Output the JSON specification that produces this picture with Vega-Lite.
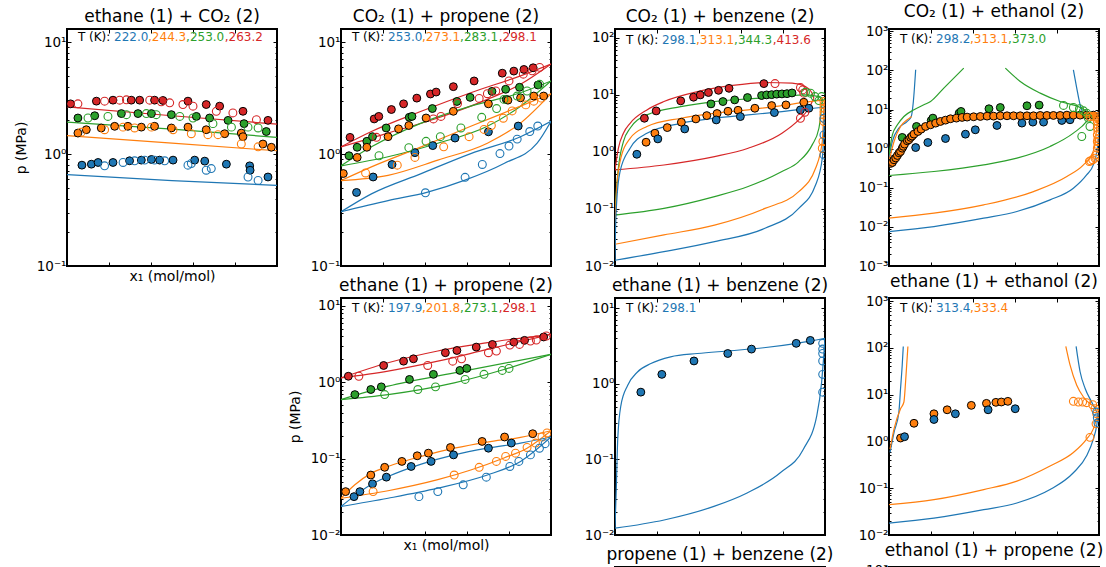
{
"$schema":"https://vega.github.io/schema/vega-lite/v6.json",
"padding":{"left":13,"top":2,"right":5,"bottom":5},
"columns":4,
"bounds":"flush",
"spacing":{"row":32,"column":64},
"datasets":{"d":[
{"g":"A","k":"L","c":3,"x":0,"p":2.64},{"g":"A","k":"L","c":3,"x":0.5,"p":2.2},{"g":"A","k":"L","c":3,"x":1,"p":1.85},
{"g":"A","k":"L","c":2,"x":0,"p":1.93},{"g":"A","k":"L","c":2,"x":0.5,"p":1.67},{"g":"A","k":"L","c":2,"x":1,"p":1.41},
{"g":"A","k":"L","c":1,"x":0,"p":1.46},{"g":"A","k":"L","c":1,"x":0.5,"p":1.25},{"g":"A","k":"L","c":1,"x":1,"p":1.07},
{"g":"A","k":"L","c":0,"x":0,"p":0.655},{"g":"A","k":"L","c":0,"x":0.5,"p":0.58},{"g":"A","k":"L","c":0,"x":1,"p":0.525},
{"g":"A","k":"F","c":3,"x":0.017,"p":2.81},{"g":"A","k":"F","c":3,"x":0.14,"p":2.97},{"g":"A","k":"F","c":3,"x":0.219,"p":3.03},{"g":"A","k":"F","c":3,"x":0.306,"p":3.03},{"g":"A","k":"F","c":3,"x":0.346,"p":3.03},{"g":"A","k":"F","c":3,"x":0.417,"p":3.03},{"g":"A","k":"F","c":3,"x":0.457,"p":3.01},{"g":"A","k":"F","c":3,"x":0.576,"p":2.97},{"g":"A","k":"F","c":3,"x":0.663,"p":2.77},{"g":"A","k":"F","c":3,"x":0.727,"p":2.68},{"g":"A","k":"F","c":3,"x":0.838,"p":2.41},{"g":"A","k":"F","c":3,"x":0.957,"p":2.0},
{"g":"A","k":"O","c":3,"x":0.052,"p":2.81},{"g":"A","k":"O","c":3,"x":0.179,"p":2.97},{"g":"A","k":"O","c":3,"x":0.251,"p":3.03},{"g":"A","k":"O","c":3,"x":0.283,"p":3.05},{"g":"A","k":"O","c":3,"x":0.394,"p":3.03},{"g":"A","k":"O","c":3,"x":0.449,"p":2.93},{"g":"A","k":"O","c":3,"x":0.489,"p":2.87},{"g":"A","k":"O","c":3,"x":0.552,"p":2.77},{"g":"A","k":"O","c":3,"x":0.6,"p":2.68},{"g":"A","k":"O","c":3,"x":0.711,"p":2.41},{"g":"A","k":"O","c":3,"x":0.79,"p":2.33},{"g":"A","k":"O","c":3,"x":0.902,"p":2.03},
{"g":"A","k":"F","c":2,"x":0.052,"p":2.1},{"g":"A","k":"F","c":2,"x":0.132,"p":2.2},{"g":"A","k":"F","c":2,"x":0.259,"p":2.3},{"g":"A","k":"F","c":2,"x":0.338,"p":2.3},{"g":"A","k":"F","c":2,"x":0.402,"p":2.3},{"g":"A","k":"F","c":2,"x":0.497,"p":2.25},{"g":"A","k":"F","c":2,"x":0.616,"p":2.17},{"g":"A","k":"F","c":2,"x":0.679,"p":2.1},{"g":"A","k":"F","c":2,"x":0.767,"p":2.0},{"g":"A","k":"F","c":2,"x":0.843,"p":1.87},{"g":"A","k":"F","c":2,"x":0.949,"p":1.59},
{"g":"A","k":"O","c":2,"x":0.1,"p":2.1},{"g":"A","k":"O","c":2,"x":0.195,"p":2.17},{"g":"A","k":"O","c":2,"x":0.283,"p":2.25},{"g":"A","k":"O","c":2,"x":0.378,"p":2.3},{"g":"A","k":"O","c":2,"x":0.425,"p":2.25},{"g":"A","k":"O","c":2,"x":0.537,"p":2.17},{"g":"A","k":"O","c":2,"x":0.6,"p":2.1},{"g":"A","k":"O","c":2,"x":0.695,"p":1.87},{"g":"A","k":"O","c":2,"x":0.783,"p":1.74},{"g":"A","k":"O","c":2,"x":0.862,"p":1.74},{"g":"A","k":"O","c":2,"x":0.91,"p":1.71},
{"g":"A","k":"F","c":1,"x":0.052,"p":1.54},{"g":"A","k":"F","c":1,"x":0.092,"p":1.65},{"g":"A","k":"F","c":1,"x":0.163,"p":1.71},{"g":"A","k":"F","c":1,"x":0.227,"p":1.77},{"g":"A","k":"F","c":1,"x":0.29,"p":1.77},{"g":"A","k":"F","c":1,"x":0.354,"p":1.74},{"g":"A","k":"F","c":1,"x":0.417,"p":1.77},{"g":"A","k":"F","c":1,"x":0.497,"p":1.71},{"g":"A","k":"F","c":1,"x":0.576,"p":1.74},{"g":"A","k":"F","c":1,"x":0.663,"p":1.65},{"g":"A","k":"F","c":1,"x":0.751,"p":1.52},{"g":"A","k":"F","c":1,"x":0.83,"p":1.54},{"g":"A","k":"F","c":1,"x":0.838,"p":1.43},{"g":"A","k":"F","c":1,"x":0.933,"p":1.23},{"g":"A","k":"F","c":1,"x":0.973,"p":1.15},
{"g":"A","k":"O","c":1,"x":0.068,"p":1.57},{"g":"A","k":"O","c":1,"x":0.179,"p":1.65},{"g":"A","k":"O","c":1,"x":0.267,"p":1.74},{"g":"A","k":"O","c":1,"x":0.322,"p":1.71},{"g":"A","k":"O","c":1,"x":0.402,"p":1.74},{"g":"A","k":"O","c":1,"x":0.505,"p":1.65},{"g":"A","k":"O","c":1,"x":0.592,"p":1.52},{"g":"A","k":"O","c":1,"x":0.671,"p":1.49},{"g":"A","k":"O","c":1,"x":0.719,"p":1.49},{"g":"A","k":"O","c":1,"x":0.83,"p":1.23},{"g":"A","k":"O","c":1,"x":0.91,"p":1.16},
{"g":"A","k":"F","c":0,"x":0.071,"p":0.796},{"g":"A","k":"F","c":0,"x":0.116,"p":0.812},{"g":"A","k":"F","c":0,"x":0.148,"p":0.841},{"g":"A","k":"F","c":0,"x":0.219,"p":0.841},{"g":"A","k":"F","c":0,"x":0.298,"p":0.871},{"g":"A","k":"F","c":0,"x":0.354,"p":0.883},{"g":"A","k":"F","c":0,"x":0.402,"p":0.895},{"g":"A","k":"F","c":0,"x":0.441,"p":0.883},{"g":"A","k":"F","c":0,"x":0.505,"p":0.883},{"g":"A","k":"F","c":0,"x":0.608,"p":0.883},{"g":"A","k":"F","c":0,"x":0.656,"p":0.865},{"g":"A","k":"F","c":0,"x":0.759,"p":0.812},{"g":"A","k":"F","c":0,"x":0.87,"p":0.785},{"g":"A","k":"F","c":0,"x":0.872,"p":0.717},{"g":"A","k":"F","c":0,"x":0.957,"p":0.624},
{"g":"A","k":"O","c":0,"x":0.179,"p":0.785},{"g":"A","k":"O","c":0,"x":0.267,"p":0.841},{"g":"A","k":"O","c":0,"x":0.322,"p":0.871},{"g":"A","k":"O","c":0,"x":0.37,"p":0.883},{"g":"A","k":"O","c":0,"x":0.417,"p":0.883},{"g":"A","k":"O","c":0,"x":0.465,"p":0.871},{"g":"A","k":"O","c":0,"x":0.576,"p":0.796},{"g":"A","k":"O","c":0,"x":0.592,"p":0.824},{"g":"A","k":"O","c":0,"x":0.663,"p":0.717},{"g":"A","k":"O","c":0,"x":0.687,"p":0.742},{"g":"A","k":"O","c":0,"x":0.862,"p":0.624},{"g":"A","k":"O","c":0,"x":0.91,"p":0.582},
{"g":"A","k":"T","c":4,"x":0.052,"p":11.1,"t":"T (K):"},{"g":"A","k":"T","c":0,"x":0.224,"p":11.1,"t":"222.0"},{"g":"A","k":"T","c":1,"x":0.386,"p":11.1,"t":",244.3"},{"g":"A","k":"T","c":2,"x":0.567,"p":11.1,"t":",253.0"},{"g":"A","k":"T","c":3,"x":0.751,"p":11.1,"t":",263.2"},

{"g":"B","k":"L","c":3,"b":0,"x":0,"p":1.16},{"g":"B","k":"L","c":3,"b":0,"x":0.145,"p":1.59},{"g":"B","k":"L","c":3,"b":0,"x":0.382,"p":2.41},{"g":"B","k":"L","c":3,"b":0,"x":0.618,"p":3.53},{"g":"B","k":"L","c":3,"b":0,"x":0.855,"p":5.0},{"g":"B","k":"L","c":3,"b":0,"x":1,"p":6.37},
{"g":"B","k":"L","c":3,"b":1,"x":0,"p":1.16},{"g":"B","k":"L","c":3,"b":1,"x":0.224,"p":1.54},{"g":"B","k":"L","c":3,"b":1,"x":0.461,"p":2.1},{"g":"B","k":"L","c":3,"b":1,"x":0.697,"p":3.08},{"g":"B","k":"L","c":3,"b":1,"x":0.855,"p":4.2},{"g":"B","k":"L","c":3,"b":1,"x":1,"p":6.37},
{"g":"B","k":"L","c":2,"b":0,"x":0,"p":0.785},{"g":"B","k":"L","c":2,"b":0,"x":0.145,"p":1.16},{"g":"B","k":"L","c":2,"b":0,"x":0.382,"p":1.89},{"g":"B","k":"L","c":2,"b":0,"x":0.618,"p":2.68},{"g":"B","k":"L","c":2,"b":0,"x":0.855,"p":3.53},{"g":"B","k":"L","c":2,"b":0,"x":1,"p":4.5},
{"g":"B","k":"L","c":2,"b":1,"x":0,"p":0.785},{"g":"B","k":"L","c":2,"b":1,"x":0.224,"p":0.946},{"g":"B","k":"L","c":2,"b":1,"x":0.461,"p":1.25},{"g":"B","k":"L","c":2,"b":1,"x":0.697,"p":1.77},{"g":"B","k":"L","c":2,"b":1,"x":0.855,"p":2.68},{"g":"B","k":"L","c":2,"b":1,"x":1,"p":4.5},
{"g":"B","k":"L","c":1,"b":0,"x":0,"p":0.58},{"g":"B","k":"L","c":1,"b":0,"x":0.145,"p":0.769},{"g":"B","k":"L","c":1,"b":0,"x":0.382,"p":1.16},{"g":"B","k":"L","c":1,"b":0,"x":0.618,"p":1.77},{"g":"B","k":"L","c":1,"b":0,"x":0.855,"p":2.68},{"g":"B","k":"L","c":1,"b":0,"x":1,"p":3.46},
{"g":"B","k":"L","c":1,"b":1,"x":0,"p":0.58},{"g":"B","k":"L","c":1,"b":1,"x":0.224,"p":0.646},{"g":"B","k":"L","c":1,"b":1,"x":0.461,"p":0.883},{"g":"B","k":"L","c":1,"b":1,"x":0.697,"p":1.25},{"g":"B","k":"L","c":1,"b":1,"x":0.855,"p":1.89},{"g":"B","k":"L","c":1,"b":1,"x":1,"p":3.46},
{"g":"B","k":"L","c":0,"b":0,"x":0,"p":0.305},{"g":"B","k":"L","c":0,"b":0,"x":0.145,"p":0.441},{"g":"B","k":"L","c":0,"b":0,"x":0.382,"p":0.669},{"g":"B","k":"L","c":0,"b":0,"x":0.618,"p":1.01},{"g":"B","k":"L","c":0,"b":0,"x":0.855,"p":1.43},{"g":"B","k":"L","c":0,"b":0,"x":1,"p":1.96},
{"g":"B","k":"L","c":0,"b":1,"x":0,"p":0.305},{"g":"B","k":"L","c":0,"b":1,"x":0.224,"p":0.384},{"g":"B","k":"L","c":0,"b":1,"x":0.413,"p":0.457},{"g":"B","k":"L","c":0,"b":1,"x":0.587,"p":0.582},{"g":"B","k":"L","c":0,"b":1,"x":0.776,"p":0.824},{"g":"B","k":"L","c":0,"b":1,"x":0.934,"p":1.25},{"g":"B","k":"L","c":0,"b":1,"x":1,"p":1.96},
{"g":"B","k":"F","c":3,"x":0.043,"p":1.41},{"g":"B","k":"F","c":3,"x":0.158,"p":2.06},{"g":"B","k":"F","c":3,"x":0.18,"p":2.17},{"g":"B","k":"F","c":3,"x":0.24,"p":2.5},{"g":"B","k":"F","c":3,"x":0.298,"p":2.81},{"g":"B","k":"F","c":3,"x":0.361,"p":3.16},{"g":"B","k":"F","c":3,"x":0.426,"p":3.44},{"g":"B","k":"F","c":3,"x":0.453,"p":3.58},{"g":"B","k":"F","c":3,"x":0.535,"p":4.0},{"g":"B","k":"F","c":3,"x":0.634,"p":4.5},{"g":"B","k":"F","c":3,"x":0.768,"p":5.28},{"g":"B","k":"F","c":3,"x":0.823,"p":5.51},{"g":"B","k":"F","c":3,"x":0.871,"p":5.7},{"g":"B","k":"F","c":3,"x":0.915,"p":5.9},
{"g":"B","k":"O","c":3,"x":0.169,"p":1.41},{"g":"B","k":"O","c":3,"x":0.44,"p":2.06},{"g":"B","k":"O","c":3,"x":0.476,"p":2.17},{"g":"B","k":"O","c":3,"x":0.555,"p":2.83},{"g":"B","k":"O","c":3,"x":0.658,"p":3.14},{"g":"B","k":"O","c":3,"x":0.697,"p":3.46},{"g":"B","k":"O","c":3,"x":0.737,"p":3.66},{"g":"B","k":"O","c":3,"x":0.8,"p":4.5},{"g":"B","k":"O","c":3,"x":0.868,"p":5.17},{"g":"B","k":"O","c":3,"x":0.91,"p":5.55},{"g":"B","k":"O","c":3,"x":0.946,"p":5.95},
{"g":"B","k":"F","c":2,"x":0.038,"p":0.966},{"g":"B","k":"F","c":2,"x":0.077,"p":1.15},{"g":"B","k":"F","c":2,"x":0.123,"p":1.3},{"g":"B","k":"F","c":2,"x":0.15,"p":1.43},{"g":"B","k":"F","c":2,"x":0.215,"p":1.71},{"g":"B","k":"F","c":2,"x":0.325,"p":2.13},{"g":"B","k":"F","c":2,"x":0.338,"p":2.17},{"g":"B","k":"F","c":2,"x":0.435,"p":2.55},{"g":"B","k":"F","c":2,"x":0.552,"p":2.95},{"g":"B","k":"F","c":2,"x":0.615,"p":3.21},{"g":"B","k":"F","c":2,"x":0.719,"p":3.63},{"g":"B","k":"F","c":2,"x":0.787,"p":3.08},{"g":"B","k":"F","c":2,"x":0.784,"p":3.79},{"g":"B","k":"F","c":2,"x":0.85,"p":3.95},{"g":"B","k":"F","c":2,"x":0.938,"p":4.14},
{"g":"B","k":"O","c":2,"x":0.181,"p":0.966},{"g":"B","k":"O","c":2,"x":0.323,"p":1.14},{"g":"B","k":"O","c":2,"x":0.405,"p":1.3},{"g":"B","k":"O","c":2,"x":0.473,"p":1.43},{"g":"B","k":"O","c":2,"x":0.571,"p":1.71},{"g":"B","k":"O","c":2,"x":0.67,"p":2.13},{"g":"B","k":"O","c":2,"x":0.741,"p":2.55},{"g":"B","k":"O","c":2,"x":0.776,"p":3.08},{"g":"B","k":"O","c":2,"x":0.839,"p":3.3},{"g":"B","k":"O","c":2,"x":0.886,"p":3.66},{"g":"B","k":"O","c":2,"x":0.946,"p":4.2},
{"g":"B","k":"F","c":1,"x":0.011,"p":0.67},{"g":"B","k":"F","c":1,"x":0.077,"p":0.933},{"g":"B","k":"F","c":1,"x":0.123,"p":1.15},{"g":"B","k":"F","c":1,"x":0.224,"p":1.43},{"g":"B","k":"F","c":1,"x":0.274,"p":1.68},{"g":"B","k":"F","c":1,"x":0.323,"p":1.8},{"g":"B","k":"F","c":1,"x":0.405,"p":2.1},{"g":"B","k":"F","c":1,"x":0.535,"p":2.41},{"g":"B","k":"F","c":1,"x":0.702,"p":2.81},{"g":"B","k":"F","c":1,"x":0.795,"p":3.03},{"g":"B","k":"F","c":1,"x":0.855,"p":3.18},{"g":"B","k":"F","c":1,"x":0.918,"p":3.3},{"g":"B","k":"F","c":1,"x":0.965,"p":3.3},
{"g":"B","k":"O","c":1,"x":0.117,"p":0.678},{"g":"B","k":"O","c":1,"x":0.268,"p":0.796},{"g":"B","k":"O","c":1,"x":0.352,"p":0.933},{"g":"B","k":"O","c":1,"x":0.489,"p":1.16},{"g":"B","k":"O","c":1,"x":0.61,"p":1.43},{"g":"B","k":"O","c":1,"x":0.681,"p":1.66},{"g":"B","k":"O","c":1,"x":0.716,"p":1.8},{"g":"B","k":"O","c":1,"x":0.773,"p":2.09},{"g":"B","k":"O","c":1,"x":0.815,"p":2.43},{"g":"B","k":"O","c":1,"x":0.88,"p":2.75},{"g":"B","k":"O","c":1,"x":0.918,"p":2.97},{"g":"B","k":"O","c":1,"x":0.954,"p":3.16},
{"g":"B","k":"F","c":0,"x":0.074,"p":0.454},{"g":"B","k":"F","c":0,"x":0.153,"p":0.624},{"g":"B","k":"F","c":0,"x":0.243,"p":0.807},{"g":"B","k":"F","c":0,"x":0.352,"p":1.03},{"g":"B","k":"F","c":0,"x":0.437,"p":1.19},{"g":"B","k":"F","c":0,"x":0.543,"p":1.39},{"g":"B","k":"F","c":0,"x":0.702,"p":1.58},{"g":"B","k":"F","c":0,"x":0.844,"p":1.78},
{"g":"B","k":"O","c":0,"x":0.402,"p":0.451},{"g":"B","k":"O","c":0,"x":0.591,"p":0.62},{"g":"B","k":"O","c":0,"x":0.673,"p":0.807},{"g":"B","k":"O","c":0,"x":0.757,"p":1.01},{"g":"B","k":"O","c":0,"x":0.8,"p":1.18},{"g":"B","k":"O","c":0,"x":0.839,"p":1.36},{"g":"B","k":"O","c":0,"x":0.899,"p":1.59},{"g":"B","k":"O","c":0,"x":0.937,"p":1.78},
{"g":"B","k":"T","c":4,"x":0.052,"p":11.1,"t":"T (K):"},{"g":"B","k":"T","c":0,"x":0.224,"p":11.1,"t":"253.0"},{"g":"B","k":"T","c":1,"x":0.386,"p":11.1,"t":",273.1"},{"g":"B","k":"T","c":2,"x":0.567,"p":11.1,"t":",283.1"},{"g":"B","k":"T","c":3,"x":0.751,"p":11.1,"t":",298.1"},

{"g":"C","k":"L","c":3,"b":0,"x":0,"p":0.48},{"g":"C","k":"L","c":3,"b":0,"x":0.016,"p":1.15},{"g":"C","k":"L","c":3,"b":0,"x":0.04,"p":2.11},{"g":"C","k":"L","c":3,"b":0,"x":0.072,"p":3.15},{"g":"C","k":"L","c":3,"b":0,"x":0.152,"p":5.4},{"g":"C","k":"L","c":3,"b":0,"x":0.233,"p":7.57},{"g":"C","k":"L","c":3,"b":0,"x":0.393,"p":11.3},{"g":"C","k":"L","c":3,"b":0,"x":0.554,"p":14.4},{"g":"C","k":"L","c":3,"b":0,"x":0.714,"p":16.3},{"g":"C","k":"L","c":3,"b":0,"x":0.843,"p":15.9},{"g":"C","k":"L","c":3,"b":0,"x":0.907,"p":13.9},{"g":"C","k":"L","c":3,"b":0,"x":0.939,"p":10.6},{"g":"C","k":"L","c":3,"b":0,"x":0.947,"p":8.65},
{"g":"C","k":"L","c":3,"b":1,"x":0,"p":0.48},{"g":"C","k":"L","c":3,"b":1,"x":0.233,"p":0.587},{"g":"C","k":"L","c":3,"b":1,"x":0.474,"p":0.822},{"g":"C","k":"L","c":3,"b":1,"x":0.634,"p":1.15},{"g":"C","k":"L","c":3,"b":1,"x":0.795,"p":2.11},{"g":"C","k":"L","c":3,"b":1,"x":0.875,"p":3.61},{"g":"C","k":"L","c":3,"b":1,"x":0.923,"p":5.78},{"g":"C","k":"L","c":3,"b":1,"x":0.947,"p":8.65},
{"g":"C","k":"L","c":2,"b":0,"x":0,"p":0.078},{"g":"C","k":"L","c":2,"b":0,"x":0.003,"p":0.134},{"g":"C","k":"L","c":2,"b":0,"x":0.016,"p":0.514},{"g":"C","k":"L","c":2,"b":0,"x":0.04,"p":1.51},{"g":"C","k":"L","c":2,"b":0,"x":0.072,"p":2.58},{"g":"C","k":"L","c":2,"b":0,"x":0.152,"p":4.42},{"g":"C","k":"L","c":2,"b":0,"x":0.313,"p":6.18},{"g":"C","k":"L","c":2,"b":0,"x":0.474,"p":7.57},{"g":"C","k":"L","c":2,"b":0,"x":0.634,"p":8.43},{"g":"C","k":"L","c":2,"b":0,"x":0.795,"p":9.26},{"g":"C","k":"L","c":2,"b":0,"x":0.907,"p":9.9},{"g":"C","k":"L","c":2,"b":0,"x":0.971,"p":9.26},{"g":"C","k":"L","c":2,"b":0,"x":0.987,"p":7.57},
{"g":"C","k":"L","c":2,"b":1,"x":0,"p":0.078},{"g":"C","k":"L","c":2,"b":1,"x":0.233,"p":0.102},{"g":"C","k":"L","c":2,"b":1,"x":0.474,"p":0.164},{"g":"C","k":"L","c":2,"b":1,"x":0.634,"p":0.246},{"g":"C","k":"L","c":2,"b":1,"x":0.795,"p":0.45},{"g":"C","k":"L","c":2,"b":1,"x":0.875,"p":0.673},{"g":"C","k":"L","c":2,"b":1,"x":0.939,"p":1.32},{"g":"C","k":"L","c":2,"b":1,"x":0.971,"p":2.58},{"g":"C","k":"L","c":2,"b":1,"x":0.987,"p":7.57},
{"g":"C","k":"L","c":1,"b":0,"x":0,"p":0.024},{"g":"C","k":"L","c":1,"b":0,"x":0.002,"p":0.068},{"g":"C","k":"L","c":1,"b":0,"x":0.008,"p":0.23},{"g":"C","k":"L","c":1,"b":0,"x":0.024,"p":0.673},{"g":"C","k":"L","c":1,"b":0,"x":0.072,"p":1.72},{"g":"C","k":"L","c":1,"b":0,"x":0.152,"p":2.76},{"g":"C","k":"L","c":1,"b":0,"x":0.313,"p":3.86},{"g":"C","k":"L","c":1,"b":0,"x":0.474,"p":4.72},{"g":"C","k":"L","c":1,"b":0,"x":0.634,"p":5.4},{"g":"C","k":"L","c":1,"b":0,"x":0.795,"p":6.44},{"g":"C","k":"L","c":1,"b":0,"x":0.907,"p":7.37},{"g":"C","k":"L","c":1,"b":0,"x":0.997,"p":8.09},
{"g":"C","k":"L","c":1,"b":1,"x":0,"p":0.024},{"g":"C","k":"L","c":1,"b":1,"x":0.233,"p":0.035},{"g":"C","k":"L","c":1,"b":1,"x":0.474,"p":0.052},{"g":"C","k":"L","c":1,"b":1,"x":0.714,"p":0.102},{"g":"C","k":"L","c":1,"b":1,"x":0.875,"p":0.2},{"g":"C","k":"L","c":1,"b":1,"x":0.955,"p":0.514},{"g":"C","k":"L","c":1,"b":1,"x":0.987,"p":1.51},{"g":"C","k":"L","c":1,"b":1,"x":0.994,"p":5.0},{"g":"C","k":"L","c":1,"b":1,"x":0.997,"p":8.09},
{"g":"C","k":"L","c":0,"b":0,"x":0,"p":0.0126},{"g":"C","k":"L","c":0,"b":0,"x":0.002,"p":0.035},{"g":"C","k":"L","c":0,"b":0,"x":0.008,"p":0.134},{"g":"C","k":"L","c":0,"b":0,"x":0.024,"p":0.45},{"g":"C","k":"L","c":0,"b":0,"x":0.072,"p":1.15},{"g":"C","k":"L","c":0,"b":0,"x":0.152,"p":2.11},{"g":"C","k":"L","c":0,"b":0,"x":0.313,"p":3.15},{"g":"C","k":"L","c":0,"b":0,"x":0.474,"p":3.86},{"g":"C","k":"L","c":0,"b":0,"x":0.634,"p":4.42},{"g":"C","k":"L","c":0,"b":0,"x":0.795,"p":5.06},{"g":"C","k":"L","c":0,"b":0,"x":0.907,"p":5.63},{"g":"C","k":"L","c":0,"b":0,"x":0.998,"p":6.02},
{"g":"C","k":"L","c":0,"b":1,"x":0,"p":0.0126},{"g":"C","k":"L","c":0,"b":1,"x":0.233,"p":0.0178},{"g":"C","k":"L","c":0,"b":1,"x":0.474,"p":0.0267},{"g":"C","k":"L","c":0,"b":1,"x":0.714,"p":0.0457},{"g":"C","k":"L","c":0,"b":1,"x":0.875,"p":0.102},{"g":"C","k":"L","c":0,"b":1,"x":0.955,"p":0.262},{"g":"C","k":"L","c":0,"b":1,"x":0.987,"p":0.769},{"g":"C","k":"L","c":0,"b":1,"x":0.995,"p":2.58},{"g":"C","k":"L","c":0,"b":1,"x":0.998,"p":6.02},
{"g":"C","k":"F","c":3,"x":0.14,"p":3.86},{"g":"C","k":"F","c":3,"x":0.196,"p":5.19},{"g":"C","k":"F","c":3,"x":0.313,"p":7.78},{"g":"C","k":"F","c":3,"x":0.374,"p":9.02},{"g":"C","k":"F","c":3,"x":0.406,"p":9.9},{"g":"C","k":"F","c":3,"x":0.445,"p":10.9},{"g":"C","k":"F","c":3,"x":0.493,"p":11.9},{"g":"C","k":"F","c":3,"x":0.543,"p":12.9},{"g":"C","k":"F","c":3,"x":0.709,"p":15.6},
{"g":"C","k":"O","c":3,"x":0.762,"p":15.6},{"g":"C","k":"O","c":3,"x":0.883,"p":13.3},{"g":"C","k":"O","c":3,"x":0.894,"p":12.1},{"g":"C","k":"O","c":3,"x":0.899,"p":10.6},{"g":"C","k":"O","c":3,"x":0.904,"p":4.92},{"g":"C","k":"O","c":3,"x":0.883,"p":3.86},
{"g":"C","k":"F","c":2,"x":0.457,"p":6.89},{"g":"C","k":"F","c":2,"x":0.514,"p":7.57},{"g":"C","k":"F","c":2,"x":0.57,"p":8.09},{"g":"C","k":"F","c":2,"x":0.631,"p":8.89},{"g":"C","k":"F","c":2,"x":0.698,"p":9.64},{"g":"C","k":"F","c":2,"x":0.722,"p":9.9},{"g":"C","k":"F","c":2,"x":0.746,"p":10.0},{"g":"C","k":"F","c":2,"x":0.77,"p":10.2},{"g":"C","k":"F","c":2,"x":0.795,"p":10.3},{"g":"C","k":"F","c":2,"x":0.819,"p":10.4},{"g":"C","k":"F","c":2,"x":0.843,"p":10.7},
{"g":"C","k":"O","c":2,"x":0.907,"p":11.0},{"g":"C","k":"O","c":2,"x":0.931,"p":10.6},{"g":"C","k":"O","c":2,"x":0.952,"p":9.25},{"g":"C","k":"O","c":2,"x":0.971,"p":7.87},{"g":"C","k":"O","c":2,"x":0.984,"p":9.25},
{"g":"C","k":"F","c":1,"x":0.148,"p":1.47},{"g":"C","k":"F","c":1,"x":0.19,"p":2.11},{"g":"C","k":"F","c":1,"x":0.249,"p":2.65},{"g":"C","k":"F","c":1,"x":0.316,"p":3.29},{"g":"C","k":"F","c":1,"x":0.385,"p":3.76},{"g":"C","k":"F","c":1,"x":0.437,"p":4.3},{"g":"C","k":"F","c":1,"x":0.486,"p":4.67},{"g":"C","k":"F","c":1,"x":0.538,"p":5.12},{"g":"C","k":"F","c":1,"x":0.586,"p":5.33},{"g":"C","k":"F","c":1,"x":0.666,"p":5.78},{"g":"C","k":"F","c":1,"x":0.746,"p":6.44},{"g":"C","k":"F","c":1,"x":0.814,"p":6.61},{"g":"C","k":"F","c":1,"x":0.899,"p":7.36},
{"g":"C","k":"O","c":1,"x":0.995,"p":7.57},{"g":"C","k":"O","c":1,"x":0.995,"p":6.6},{"g":"C","k":"O","c":1,"x":0.995,"p":5.78},{"g":"C","k":"O","c":1,"x":0.995,"p":5.0},{"g":"C","k":"O","c":1,"x":0.995,"p":4.42},{"g":"C","k":"O","c":1,"x":0.995,"p":3.8},{"g":"C","k":"O","c":1,"x":0.995,"p":3.37},{"g":"C","k":"O","c":1,"x":0.99,"p":1.51},{"g":"C","k":"O","c":1,"x":0.987,"p":1.15},
{"g":"C","k":"F","c":0,"x":0.104,"p":0.904},{"g":"C","k":"F","c":0,"x":0.204,"p":1.68},{"g":"C","k":"F","c":0,"x":0.332,"p":2.51},{"g":"C","k":"F","c":0,"x":0.482,"p":3.61},{"g":"C","k":"F","c":0,"x":0.597,"p":4.13},{"g":"C","k":"F","c":0,"x":0.759,"p":4.85},{"g":"C","k":"F","c":0,"x":0.883,"p":5.41},{"g":"C","k":"F","c":0,"x":0.923,"p":5.78},
{"g":"C","k":"O","c":0,"x":0.995,"p":0.88},{"g":"C","k":"O","c":0,"x":0.995,"p":1.97},{"g":"C","k":"O","c":0,"x":0.995,"p":3.86},
{"g":"C","k":"T","c":4,"x":0.052,"p":92,"t":"T (K):"},{"g":"C","k":"T","c":0,"x":0.224,"p":92,"t":"298.1"},{"g":"C","k":"T","c":1,"x":0.386,"p":92,"t":",313.1"},{"g":"C","k":"T","c":2,"x":0.567,"p":92,"t":",344.3"},{"g":"C","k":"T","c":3,"x":0.751,"p":92,"t":",413.6"},

{"g":"D","k":"L","c":0,"b":0,"x":0,"p":0.573},{"g":"D","k":"L","c":0,"b":0,"x":0.016,"p":1.53},{"g":"D","k":"L","c":0,"b":0,"x":0.047,"p":3.36},{"g":"D","k":"L","c":0,"b":0,"x":0.087,"p":4.97},{"g":"D","k":"L","c":0,"b":0,"x":0.106,"p":6.67},{"g":"D","k":"L","c":0,"b":0,"x":0.116,"p":16.1},{"g":"D","k":"L","c":0,"b":0,"x":0.127,"p":104},
{"g":"D","k":"L","c":0,"b":1,"x":0.878,"p":104},{"g":"D","k":"L","c":0,"b":1,"x":0.894,"p":35.5},{"g":"D","k":"L","c":0,"b":1,"x":0.91,"p":13.3},{"g":"D","k":"L","c":0,"b":1,"x":0.92,"p":9},
{"g":"D","k":"L","c":0,"b":2,"x":0,"p":0.0076},{"g":"D","k":"L","c":0,"b":2,"x":0.214,"p":0.0102},{"g":"D","k":"L","c":0,"b":2,"x":0.451,"p":0.0167},{"g":"D","k":"L","c":0,"b":2,"x":0.609,"p":0.0247},{"g":"D","k":"L","c":0,"b":2,"x":0.767,"p":0.049},{"g":"D","k":"L","c":0,"b":2,"x":0.878,"p":0.0977},{"g":"D","k":"L","c":0,"b":2,"x":0.941,"p":0.214},{"g":"D","k":"L","c":0,"b":2,"x":0.973,"p":0.386},{"g":"D","k":"L","c":0,"b":2,"x":0.992,"p":1.03},{"g":"D","k":"L","c":0,"b":2,"x":1,"p":3.36},
{"g":"D","k":"L","c":1,"b":0,"x":0,"p":0.47},{"g":"D","k":"L","c":1,"b":0,"x":0.024,"p":1.53},{"g":"D","k":"L","c":1,"b":0,"x":0.055,"p":3.7},{"g":"D","k":"L","c":1,"b":0,"x":0.087,"p":5.48},{"g":"D","k":"L","c":1,"b":0,"x":0.108,"p":6.67},
{"g":"D","k":"L","c":1,"b":2,"x":0,"p":0.0167},{"g":"D","k":"L","c":1,"b":2,"x":0.214,"p":0.0224},{"g":"D","k":"L","c":1,"b":2,"x":0.451,"p":0.0366},{"g":"D","k":"L","c":1,"b":2,"x":0.688,"p":0.08},{"g":"D","k":"L","c":1,"b":2,"x":0.847,"p":0.194},{"g":"D","k":"L","c":1,"b":2,"x":0.926,"p":0.386},{"g":"D","k":"L","c":1,"b":2,"x":0.965,"p":0.697},{"g":"D","k":"L","c":1,"b":2,"x":0.981,"p":1.26},{"g":"D","k":"L","c":1,"b":2,"x":0.989,"p":3.36},{"g":"D","k":"L","c":1,"b":2,"x":0.997,"p":6.67},
{"g":"D","k":"L","c":2,"b":0,"x":0,"p":0.697},{"g":"D","k":"L","c":2,"b":0,"x":0.016,"p":2.26},{"g":"D","k":"L","c":2,"b":0,"x":0.04,"p":4.08},{"g":"D","k":"L","c":2,"b":0,"x":0.071,"p":6.67},{"g":"D","k":"L","c":2,"b":0,"x":0.119,"p":9.9},{"g":"D","k":"L","c":2,"b":0,"x":0.166,"p":13.3},{"g":"D","k":"L","c":2,"b":0,"x":0.198,"p":16.1},{"g":"D","k":"L","c":2,"b":0,"x":0.261,"p":35.4},{"g":"D","k":"L","c":2,"b":0,"x":0.356,"p":115},
{"g":"D","k":"L","c":2,"b":1,"x":0.554,"p":115},{"g":"D","k":"L","c":2,"b":1,"x":0.625,"p":52.5},{"g":"D","k":"L","c":2,"b":1,"x":0.72,"p":26.4},{"g":"D","k":"L","c":2,"b":1,"x":0.815,"p":16.1},{"g":"D","k":"L","c":2,"b":1,"x":0.91,"p":11.3},{"g":"D","k":"L","c":2,"b":1,"x":0.941,"p":8.96},
{"g":"D","k":"L","c":2,"b":2,"x":0,"p":0.206},{"g":"D","k":"L","c":2,"b":2,"x":0.214,"p":0.261},{"g":"D","k":"L","c":2,"b":2,"x":0.451,"p":0.386},{"g":"D","k":"L","c":2,"b":2,"x":0.609,"p":0.573},{"g":"D","k":"L","c":2,"b":2,"x":0.767,"p":1.14},{"g":"D","k":"L","c":2,"b":2,"x":0.878,"p":2.5},{"g":"D","k":"L","c":2,"b":2,"x":0.941,"p":4.97},{"g":"D","k":"L","c":2,"b":2,"x":0.957,"p":6.67},
{"g":"D","k":"F","c":2,"x":0.063,"p":1.94},{"g":"D","k":"F","c":2,"x":0.131,"p":3.7},{"g":"D","k":"F","c":2,"x":0.201,"p":5.27},{"g":"D","k":"F","c":2,"x":0.209,"p":6.05},{"g":"D","k":"F","c":2,"x":0.334,"p":8.11},{"g":"D","k":"F","c":2,"x":0.343,"p":8.96},{"g":"D","k":"F","c":2,"x":0.476,"p":10.5},{"g":"D","k":"F","c":2,"x":0.53,"p":11.3},{"g":"D","k":"F","c":2,"x":0.657,"p":12.5},{"g":"D","k":"F","c":2,"x":0.715,"p":13.0},
{"g":"D","k":"O","c":2,"x":0.831,"p":12.8},{"g":"D","k":"O","c":2,"x":0.878,"p":11.3},{"g":"D","k":"O","c":2,"x":0.907,"p":10.5},{"g":"D","k":"O","c":2,"x":0.926,"p":9.3},{"g":"D","k":"O","c":2,"x":0.941,"p":8.1},{"g":"D","k":"O","c":2,"x":0.949,"p":6.05},{"g":"D","k":"O","c":2,"x":0.957,"p":3.7},{"g":"D","k":"O","c":2,"x":0.918,"p":2.05},
{"g":"D","k":"F","c":0,"x":0.127,"p":1.07},{"g":"D","k":"F","c":0,"x":0.185,"p":1.44},{"g":"D","k":"F","c":0,"x":0.269,"p":1.82},{"g":"D","k":"F","c":0,"x":0.364,"p":2.35},{"g":"D","k":"F","c":0,"x":0.411,"p":3.04},{"g":"D","k":"F","c":0,"x":0.514,"p":3.93},{"g":"D","k":"F","c":0,"x":0.633,"p":4.51},{"g":"D","k":"F","c":0,"x":0.685,"p":4.78},{"g":"D","k":"F","c":0,"x":0.736,"p":4.78},{"g":"D","k":"F","c":0,"x":0.823,"p":5.27},{"g":"D","k":"F","c":0,"x":0.862,"p":5.48},
{"g":"D","k":"F","c":1,"x":0.008,"p":0.42},{"g":"D","k":"F","c":1,"x":0.016,"p":0.444},{"g":"D","k":"F","c":1,"x":0.024,"p":0.519},{"g":"D","k":"F","c":1,"x":0.032,"p":0.58},{"g":"D","k":"F","c":1,"x":0.04,"p":0.67},{"g":"D","k":"F","c":1,"x":0.048,"p":0.78},{"g":"D","k":"F","c":1,"x":0.055,"p":0.848},{"g":"D","k":"F","c":1,"x":0.063,"p":1.03},{"g":"D","k":"F","c":1,"x":0.068,"p":1.15},{"g":"D","k":"F","c":1,"x":0.074,"p":1.31},{"g":"D","k":"F","c":1,"x":0.087,"p":1.59},{"g":"D","k":"F","c":1,"x":0.095,"p":1.7},{"g":"D","k":"F","c":1,"x":0.103,"p":1.94},{"g":"D","k":"F","c":1,"x":0.11,"p":2.1},{"g":"D","k":"F","c":1,"x":0.119,"p":2.36},{"g":"D","k":"F","c":1,"x":0.138,"p":2.75},{"g":"D","k":"F","c":1,"x":0.153,"p":3.16},{"g":"D","k":"F","c":1,"x":0.174,"p":3.7},{"g":"D","k":"F","c":1,"x":0.198,"p":4.08},{"g":"D","k":"F","c":1,"x":0.222,"p":4.5},{"g":"D","k":"F","c":1,"x":0.245,"p":4.97},{"g":"D","k":"F","c":1,"x":0.269,"p":5.37},{"g":"D","k":"F","c":1,"x":0.293,"p":5.82},{"g":"D","k":"F","c":1,"x":0.321,"p":6.05},{"g":"D","k":"F","c":1,"x":0.348,"p":6.3},{"g":"D","k":"F","c":1,"x":0.372,"p":6.42},{"g":"D","k":"F","c":1,"x":0.403,"p":6.55},{"g":"D","k":"F","c":1,"x":0.435,"p":6.67},{"g":"D","k":"F","c":1,"x":0.467,"p":6.8},{"g":"D","k":"F","c":1,"x":0.498,"p":6.8},{"g":"D","k":"F","c":1,"x":0.53,"p":6.94},{"g":"D","k":"F","c":1,"x":0.562,"p":6.94},{"g":"D","k":"F","c":1,"x":0.593,"p":6.94},{"g":"D","k":"F","c":1,"x":0.625,"p":6.94},{"g":"D","k":"F","c":1,"x":0.657,"p":6.94},{"g":"D","k":"F","c":1,"x":0.688,"p":6.94},{"g":"D","k":"F","c":1,"x":0.72,"p":7.08},{"g":"D","k":"F","c":1,"x":0.752,"p":7.08},{"g":"D","k":"F","c":1,"x":0.783,"p":7.08},{"g":"D","k":"F","c":1,"x":0.815,"p":7.08},{"g":"D","k":"F","c":1,"x":0.847,"p":7.21},{"g":"D","k":"F","c":1,"x":0.878,"p":7.21},{"g":"D","k":"F","c":1,"x":0.91,"p":7.21},{"g":"D","k":"F","c":1,"x":0.941,"p":7.21},{"g":"D","k":"F","c":1,"x":0.973,"p":7.21},
{"g":"D","k":"O","c":1,"x":0.989,"p":6.67},{"g":"D","k":"O","c":1,"x":0.992,"p":4.97},{"g":"D","k":"O","c":1,"x":0.992,"p":3.36},{"g":"D","k":"O","c":1,"x":0.992,"p":2.26},{"g":"D","k":"O","c":1,"x":0.992,"p":1.53},{"g":"D","k":"O","c":1,"x":0.992,"p":1.03},{"g":"D","k":"O","c":1,"x":0.989,"p":0.697},{"g":"D","k":"O","c":1,"x":0.981,"p":0.573},{"g":"D","k":"O","c":1,"x":0.97,"p":0.519},{"g":"D","k":"O","c":1,"x":0.96,"p":0.49},{"g":"D","k":"O","c":1,"x":0.954,"p":0.47},{"g":"D","k":"O","c":1,"x":0.957,"p":6.67},{"g":"D","k":"O","c":1,"x":0.973,"p":6.67},{"g":"D","k":"O","c":1,"x":0.995,"p":5.8},{"g":"D","k":"O","c":1,"x":0.995,"p":4.0},{"g":"D","k":"O","c":1,"x":0.995,"p":2.8},{"g":"D","k":"O","c":1,"x":0.995,"p":1.8},{"g":"D","k":"O","c":1,"x":0.995,"p":1.25},
{"g":"D","k":"T","c":4,"x":0.052,"p":624,"t":"T (K):"},{"g":"D","k":"T","c":0,"x":0.224,"p":624,"t":"298.2"},{"g":"D","k":"T","c":1,"x":0.386,"p":624,"t":",313.1"},{"g":"D","k":"T","c":2,"x":0.567,"p":624,"t":",373.0"},

{"g":"E","k":"L","c":3,"b":0,"x":0,"p":1.14},{"g":"E","k":"L","c":3,"b":0,"x":0.224,"p":1.8},{"g":"E","k":"L","c":3,"b":0,"x":0.461,"p":2.57},{"g":"E","k":"L","c":3,"b":0,"x":0.697,"p":3.3},{"g":"E","k":"L","c":3,"b":0,"x":1,"p":4.25},
{"g":"E","k":"L","c":3,"b":1,"x":0,"p":1.14},{"g":"E","k":"L","c":3,"b":1,"x":0.224,"p":1.4},{"g":"E","k":"L","c":3,"b":1,"x":0.461,"p":1.89},{"g":"E","k":"L","c":3,"b":1,"x":0.697,"p":2.7},{"g":"E","k":"L","c":3,"b":1,"x":1,"p":4.25},
{"g":"E","k":"L","c":2,"b":0,"x":0,"p":0.594},{"g":"E","k":"L","c":2,"b":0,"x":0.224,"p":0.889},{"g":"E","k":"L","c":2,"b":0,"x":0.539,"p":1.33},{"g":"E","k":"L","c":2,"b":0,"x":1,"p":2.32},
{"g":"E","k":"L","c":2,"b":1,"x":0,"p":0.594},{"g":"E","k":"L","c":2,"b":1,"x":0.224,"p":0.69},{"g":"E","k":"L","c":2,"b":1,"x":0.539,"p":0.984},{"g":"E","k":"L","c":2,"b":1,"x":0.776,"p":1.47},{"g":"E","k":"L","c":2,"b":1,"x":1,"p":2.32},
{"g":"E","k":"L","c":1,"b":0,"x":0,"p":0.0303},{"g":"E","k":"L","c":1,"b":0,"x":0.066,"p":0.0454},{"g":"E","k":"L","c":1,"b":0,"x":0.145,"p":0.0646},{"g":"E","k":"L","c":1,"b":0,"x":0.224,"p":0.079},{"g":"E","k":"L","c":1,"b":0,"x":0.382,"p":0.107},{"g":"E","k":"L","c":1,"b":0,"x":0.539,"p":0.137},{"g":"E","k":"L","c":1,"b":0,"x":0.697,"p":0.165},{"g":"E","k":"L","c":1,"b":0,"x":0.855,"p":0.19},{"g":"E","k":"L","c":1,"b":0,"x":1,"p":0.232},
{"g":"E","k":"L","c":1,"b":1,"x":0,"p":0.0303},{"g":"E","k":"L","c":1,"b":1,"x":0.224,"p":0.038},{"g":"E","k":"L","c":1,"b":1,"x":0.461,"p":0.053},{"g":"E","k":"L","c":1,"b":1,"x":0.618,"p":0.071},{"g":"E","k":"L","c":1,"b":1,"x":0.776,"p":0.102},{"g":"E","k":"L","c":1,"b":1,"x":0.886,"p":0.137},{"g":"E","k":"L","c":1,"b":1,"x":1,"p":0.232},
{"g":"E","k":"L","c":0,"b":0,"x":0,"p":0.0236},{"g":"E","k":"L","c":0,"b":0,"x":0.066,"p":0.0328},{"g":"E","k":"L","c":0,"b":0,"x":0.145,"p":0.0462},{"g":"E","k":"L","c":0,"b":0,"x":0.224,"p":0.0583},{"g":"E","k":"L","c":0,"b":0,"x":0.382,"p":0.0848},{"g":"E","k":"L","c":0,"b":0,"x":0.539,"p":0.112},{"g":"E","k":"L","c":0,"b":0,"x":0.697,"p":0.137},{"g":"E","k":"L","c":0,"b":0,"x":0.855,"p":0.16},{"g":"E","k":"L","c":0,"b":0,"x":1,"p":0.192},
{"g":"E","k":"L","c":0,"b":1,"x":0,"p":0.0236},{"g":"E","k":"L","c":0,"b":1,"x":0.224,"p":0.0303},{"g":"E","k":"L","c":0,"b":1,"x":0.461,"p":0.041},{"g":"E","k":"L","c":0,"b":1,"x":0.697,"p":0.061},{"g":"E","k":"L","c":0,"b":1,"x":0.855,"p":0.092},{"g":"E","k":"L","c":0,"b":1,"x":1,"p":0.192},
{"g":"E","k":"F","c":3,"x":0.035,"p":1.2},{"g":"E","k":"F","c":3,"x":0.203,"p":1.66},{"g":"E","k":"F","c":3,"x":0.298,"p":1.89},{"g":"E","k":"F","c":3,"x":0.345,"p":2.03},{"g":"E","k":"F","c":3,"x":0.497,"p":2.44},{"g":"E","k":"F","c":3,"x":0.552,"p":2.61},{"g":"E","k":"F","c":3,"x":0.644,"p":2.89},{"g":"E","k":"F","c":3,"x":0.721,"p":3.13},{"g":"E","k":"F","c":3,"x":0.823,"p":3.36},{"g":"E","k":"F","c":3,"x":0.874,"p":3.54},{"g":"E","k":"F","c":3,"x":0.965,"p":3.92},
{"g":"E","k":"O","c":3,"x":0.085,"p":1.2},{"g":"E","k":"O","c":3,"x":0.413,"p":1.66},{"g":"E","k":"O","c":3,"x":0.532,"p":1.89},{"g":"E","k":"O","c":3,"x":0.574,"p":2.03},{"g":"E","k":"O","c":3,"x":0.702,"p":2.44},{"g":"E","k":"O","c":3,"x":0.74,"p":2.56},{"g":"E","k":"O","c":3,"x":0.804,"p":3.07},{"g":"E","k":"O","c":3,"x":0.85,"p":3.13},{"g":"E","k":"O","c":3,"x":0.902,"p":3.47},{"g":"E","k":"O","c":3,"x":0.93,"p":3.57},{"g":"E","k":"O","c":3,"x":0.978,"p":4.04},
{"g":"E","k":"F","c":2,"x":0.066,"p":0.69},{"g":"E","k":"F","c":2,"x":0.142,"p":0.804},{"g":"E","k":"F","c":2,"x":0.192,"p":0.871},{"g":"E","k":"F","c":2,"x":0.326,"p":1.09},{"g":"E","k":"F","c":2,"x":0.44,"p":1.27},{"g":"E","k":"F","c":2,"x":0.566,"p":1.43},{"g":"E","k":"F","c":2,"x":0.599,"p":1.52},
{"g":"E","k":"O","c":2,"x":0.208,"p":0.69},{"g":"E","k":"O","c":2,"x":0.366,"p":0.804},{"g":"E","k":"O","c":2,"x":0.45,"p":0.871},{"g":"E","k":"O","c":2,"x":0.591,"p":1.09},{"g":"E","k":"O","c":2,"x":0.681,"p":1.27},{"g":"E","k":"O","c":2,"x":0.768,"p":1.43},{"g":"E","k":"O","c":2,"x":0.8,"p":1.52},
{"g":"E","k":"F","c":1,"x":0.022,"p":0.037},{"g":"E","k":"F","c":1,"x":0.142,"p":0.061},{"g":"E","k":"F","c":1,"x":0.208,"p":0.077},{"g":"E","k":"F","c":1,"x":0.29,"p":0.092},{"g":"E","k":"F","c":1,"x":0.363,"p":0.109},{"g":"E","k":"F","c":1,"x":0.416,"p":0.118},{"g":"E","k":"F","c":1,"x":0.521,"p":0.14},{"g":"E","k":"F","c":1,"x":0.672,"p":0.168},{"g":"E","k":"F","c":1,"x":0.779,"p":0.192},{"g":"E","k":"F","c":1,"x":0.913,"p":0.212},
{"g":"E","k":"O","c":1,"x":0.153,"p":0.037},{"g":"E","k":"O","c":1,"x":0.539,"p":0.061},{"g":"E","k":"O","c":1,"x":0.658,"p":0.077},{"g":"E","k":"O","c":1,"x":0.74,"p":0.092},{"g":"E","k":"O","c":1,"x":0.784,"p":0.107},{"g":"E","k":"O","c":1,"x":0.831,"p":0.118},{"g":"E","k":"O","c":1,"x":0.886,"p":0.14},{"g":"E","k":"O","c":1,"x":0.926,"p":0.16},{"g":"E","k":"O","c":1,"x":0.957,"p":0.192},{"g":"E","k":"O","c":1,"x":0.981,"p":0.217},
{"g":"E","k":"F","c":0,"x":0.062,"p":0.0318},{"g":"E","k":"F","c":0,"x":0.09,"p":0.037},{"g":"E","k":"F","c":0,"x":0.15,"p":0.0468},{"g":"E","k":"F","c":0,"x":0.216,"p":0.0572},{"g":"E","k":"F","c":0,"x":0.334,"p":0.079},{"g":"E","k":"F","c":0,"x":0.429,"p":0.092},{"g":"E","k":"F","c":0,"x":0.536,"p":0.112},{"g":"E","k":"F","c":0,"x":0.702,"p":0.137},{"g":"E","k":"F","c":0,"x":0.811,"p":0.16},
{"g":"E","k":"O","c":0,"x":0.371,"p":0.0318},{"g":"E","k":"O","c":0,"x":0.461,"p":0.037},{"g":"E","k":"O","c":0,"x":0.582,"p":0.0454},{"g":"E","k":"O","c":0,"x":0.692,"p":0.0572},{"g":"E","k":"O","c":0,"x":0.804,"p":0.079},{"g":"E","k":"O","c":0,"x":0.847,"p":0.092},{"g":"E","k":"O","c":0,"x":0.902,"p":0.112},{"g":"E","k":"O","c":0,"x":0.945,"p":0.137},{"g":"E","k":"O","c":0,"x":0.972,"p":0.157},
{"g":"E","k":"T","c":4,"x":0.052,"p":9.4,"t":"T (K):"},{"g":"E","k":"T","c":0,"x":0.224,"p":9.4,"t":"197.9"},{"g":"E","k":"T","c":1,"x":0.386,"p":9.4,"t":",201.8"},{"g":"E","k":"T","c":2,"x":0.567,"p":9.4,"t":",273.1"},{"g":"E","k":"T","c":3,"x":0.751,"p":9.4,"t":",298.1"},

{"g":"F","k":"L","c":0,"b":0,"x":0,"p":0.0123},{"g":"F","k":"L","c":0,"b":0,"x":0.006,"p":0.04},{"g":"F","k":"L","c":0,"b":0,"x":0.013,"p":0.185},{"g":"F","k":"L","c":0,"b":0,"x":0.028,"p":0.514},{"g":"F","k":"L","c":0,"b":0,"x":0.06,"p":0.95},{"g":"F","k":"L","c":0,"b":0,"x":0.107,"p":1.43},{"g":"F","k":"L","c":0,"b":0,"x":0.171,"p":1.85},{"g":"F","k":"L","c":0,"b":0,"x":0.265,"p":2.27},{"g":"F","k":"L","c":0,"b":0,"x":0.392,"p":2.51},{"g":"F","k":"L","c":0,"b":0,"x":0.55,"p":2.73},{"g":"F","k":"L","c":0,"b":0,"x":0.708,"p":2.99},{"g":"F","k":"L","c":0,"b":0,"x":0.866,"p":3.42},{"g":"F","k":"L","c":0,"b":0,"x":1,"p":3.98},
{"g":"F","k":"L","c":0,"b":1,"x":0,"p":0.0123},{"g":"F","k":"L","c":0,"b":1,"x":0.234,"p":0.0158},{"g":"F","k":"L","c":0,"b":1,"x":0.471,"p":0.0239},{"g":"F","k":"L","c":0,"b":1,"x":0.629,"p":0.036},{"g":"F","k":"L","c":0,"b":1,"x":0.787,"p":0.0664},{"g":"F","k":"L","c":0,"b":1,"x":0.897,"p":0.136},{"g":"F","k":"L","c":0,"b":1,"x":0.961,"p":0.378},{"g":"F","k":"L","c":0,"b":1,"x":0.984,"p":1.05},{"g":"F","k":"L","c":0,"b":1,"x":0.992,"p":1.95},{"g":"F","k":"L","c":0,"b":1,"x":1,"p":3.98},
{"g":"F","k":"F","c":0,"x":0.123,"p":0.774},{"g":"F","k":"F","c":0,"x":0.223,"p":1.33},{"g":"F","k":"F","c":0,"x":0.376,"p":2.0},{"g":"F","k":"F","c":0,"x":0.537,"p":2.51},{"g":"F","k":"F","c":0,"x":0.65,"p":2.87},{"g":"F","k":"F","c":0,"x":0.863,"p":3.42},{"g":"F","k":"F","c":0,"x":0.93,"p":3.74},
{"g":"F","k":"O","c":0,"x":0.989,"p":0.774},{"g":"F","k":"O","c":0,"x":0.989,"p":1.33},{"g":"F","k":"O","c":0,"x":0.989,"p":2.0},{"g":"F","k":"O","c":0,"x":0.989,"p":2.51},{"g":"F","k":"O","c":0,"x":0.989,"p":2.87},{"g":"F","k":"O","c":0,"x":0.989,"p":3.42},
{"g":"F","k":"T","c":4,"x":0.052,"p":10,"t":"T (K):"},{"g":"F","k":"T","c":0,"x":0.224,"p":10,"t":"298.1"},

{"g":"G","k":"L","c":0,"b":0,"x":0.005,"p":0.58},{"g":"G","k":"L","c":0,"b":0,"x":0.024,"p":1.56},{"g":"G","k":"L","c":0,"b":0,"x":0.047,"p":4.23},{"g":"G","k":"L","c":0,"b":0,"x":0.055,"p":13.5},{"g":"G","k":"L","c":0,"b":0,"x":0.063,"p":43},{"g":"G","k":"L","c":0,"b":0,"x":0.068,"p":107},
{"g":"G","k":"L","c":0,"b":1,"x":0.891,"p":107},{"g":"G","k":"L","c":0,"b":1,"x":0.91,"p":30.8},{"g":"G","k":"L","c":0,"b":1,"x":0.934,"p":13.5},{"g":"G","k":"L","c":0,"b":1,"x":0.965,"p":6.95},{"g":"G","k":"L","c":0,"b":1,"x":0.989,"p":4.23},
{"g":"G","k":"L","c":0,"b":2,"x":0,"p":0.0179},{"g":"G","k":"L","c":0,"b":2,"x":0.214,"p":0.0229},{"g":"G","k":"L","c":0,"b":2,"x":0.451,"p":0.0347},{"g":"G","k":"L","c":0,"b":2,"x":0.609,"p":0.0482},{"g":"G","k":"L","c":0,"b":2,"x":0.767,"p":0.0935},{"g":"G","k":"L","c":0,"b":2,"x":0.878,"p":0.214},{"g":"G","k":"L","c":0,"b":2,"x":0.941,"p":0.491},{"g":"G","k":"L","c":0,"b":2,"x":0.973,"p":1.12},{"g":"G","k":"L","c":0,"b":2,"x":0.989,"p":2.18},{"g":"G","k":"L","c":0,"b":2,"x":0.997,"p":4.23},
{"g":"G","k":"L","c":1,"b":0,"x":0.005,"p":0.684},{"g":"G","k":"L","c":1,"b":0,"x":0.024,"p":1.85},{"g":"G","k":"L","c":1,"b":0,"x":0.055,"p":4.99},{"g":"G","k":"L","c":1,"b":0,"x":0.071,"p":6.95},{"g":"G","k":"L","c":1,"b":0,"x":0.079,"p":18.8},{"g":"G","k":"L","c":1,"b":0,"x":0.09,"p":107},
{"g":"G","k":"L","c":1,"b":1,"x":0.842,"p":107},{"g":"G","k":"L","c":1,"b":1,"x":0.862,"p":43},{"g":"G","k":"L","c":1,"b":1,"x":0.894,"p":15.9},{"g":"G","k":"L","c":1,"b":1,"x":0.926,"p":8.9},{"g":"G","k":"L","c":1,"b":1,"x":0.957,"p":6.4},{"g":"G","k":"L","c":1,"b":1,"x":0.989,"p":5.42},
{"g":"G","k":"L","c":1,"b":2,"x":0,"p":0.0444},{"g":"G","k":"L","c":1,"b":2,"x":0.214,"p":0.0569},{"g":"G","k":"L","c":1,"b":2,"x":0.451,"p":0.0935},{"g":"G","k":"L","c":1,"b":2,"x":0.609,"p":0.142},{"g":"G","k":"L","c":1,"b":2,"x":0.767,"p":0.299},{"g":"G","k":"L","c":1,"b":2,"x":0.878,"p":0.58},{"g":"G","k":"L","c":1,"b":2,"x":0.941,"p":1.12},{"g":"G","k":"L","c":1,"b":2,"x":0.973,"p":1.85},{"g":"G","k":"L","c":1,"b":2,"x":0.997,"p":4.23},
{"g":"G","k":"F","c":1,"x":0.055,"p":1.18},{"g":"G","k":"F","c":1,"x":0.119,"p":2.44},{"g":"G","k":"F","c":1,"x":0.214,"p":3.89},{"g":"G","k":"F","c":1,"x":0.277,"p":4.74},{"g":"G","k":"F","c":1,"x":0.392,"p":5.89},{"g":"G","k":"F","c":1,"x":0.464,"p":6.5},{"g":"G","k":"F","c":1,"x":0.509,"p":6.84},{"g":"G","k":"F","c":1,"x":0.535,"p":6.95},{"g":"G","k":"F","c":1,"x":0.566,"p":7.18},
{"g":"G","k":"F","c":0,"x":0.074,"p":1.26},{"g":"G","k":"F","c":0,"x":0.214,"p":2.94},{"g":"G","k":"F","c":0,"x":0.316,"p":3.89},{"g":"G","k":"F","c":0,"x":0.472,"p":4.74},{"g":"G","k":"F","c":0,"x":0.601,"p":4.99},
{"g":"G","k":"O","c":1,"x":0.878,"p":7.18},{"g":"G","k":"O","c":1,"x":0.902,"p":6.95},{"g":"G","k":"O","c":1,"x":0.922,"p":6.95},{"g":"G","k":"O","c":1,"x":0.941,"p":6.72},{"g":"G","k":"O","c":1,"x":0.97,"p":6.08},{"g":"G","k":"O","c":1,"x":0.981,"p":4.99},{"g":"G","k":"O","c":1,"x":0.989,"p":3.89},{"g":"G","k":"O","c":1,"x":0.986,"p":2.37},{"g":"G","k":"O","c":1,"x":0.957,"p":1.22},
{"g":"G","k":"O","c":0,"x":0.989,"p":4.23},{"g":"G","k":"O","c":0,"x":0.992,"p":3.2},{"g":"G","k":"O","c":0,"x":0.995,"p":2.5},
{"g":"G","k":"T","c":4,"x":0.052,"p":705,"t":"T (K):"},{"g":"G","k":"T","c":0,"x":0.224,"p":705,"t":"313.4"},{"g":"G","k":"T","c":1,"x":0.386,"p":705,"t":",333.4"}
]},
"concat":[
{"title":"ethane (1) + CO₂ (2)","width":210,"height":237,"data":{"name":"d"},"transform":[{"filter":"datum.g=='A'"}],
 "layer":[
  {"transform":[{"filter":"datum.k=='L'"}],"mark":{"type":"line","strokeWidth":1.2,"clip":true,"interpolate":"monotone"},
   "encoding":{"x":{"field":"x","type":"quantitative","scale":{"domain":[0,1]},"axis":{"orient":"bottom","values":[0.2,0.4,0.6,0.8],"labels":false,"tickSize":-4,"title":"x₁ (mol/mol)"}},
    "y":{"field":"p","type":"quantitative","scale":{"type":"log","domain":[0.1,13.1]},"axis":{"orient":"left","values":[0.1,0.2,0.3,0.4,0.5,0.6,0.7,0.8,0.9,1,2,3,4,5,6,7,8,9,10],"labelExpr":"abs(log(datum.value)/LN10-round(log(datum.value)/LN10))<0.001 ? '10'+(datum.value<0.5?'⁻':'')+['⁰','¹','²','³'][abs(round(log(datum.value)/LN10))] : ''","tickSize":{"condition":{"test":"abs(log(datum.value)/LN10-round(log(datum.value)/LN10))<0.001","value":-4},"value":-2},"title":"p (MPa)"}},
    "color":{"field":"c","type":"nominal","scale":{"domain":[0,1,2,3,4],"range":["#1f77b4","#ff7f0e","#2ca02c","#d62728","#000000"]},"legend":null},"detail":{"field":"b"}}},
  {"transform":[{"filter":"datum.k=='F'"}],"mark":{"type":"point","filled":true,"stroke":"black","strokeWidth":1,"size":62,"opacity":1,"clip":true},
   "encoding":{"x":{"field":"x","type":"quantitative","scale":{"domain":[0,1]},"axis":null},"y":{"field":"p","type":"quantitative","scale":{"type":"log","domain":[0.1,13.1]},"axis":null},
    "fill":{"field":"c","type":"nominal","scale":{"domain":[0,1,2,3,4],"range":["#1f77b4","#ff7f0e","#2ca02c","#d62728","#000000"]},"legend":null}}},
  {"transform":[{"filter":"datum.k=='O'"}],"mark":{"type":"point","filled":false,"strokeWidth":1.1,"size":62,"opacity":1,"clip":true},
   "encoding":{"x":{"field":"x","type":"quantitative","scale":{"domain":[0,1]},"axis":{"orient":"top","values":[0.2,0.4,0.6,0.8],"labels":false,"tickSize":-4,"title":null}},
    "y":{"field":"p","type":"quantitative","scale":{"type":"log","domain":[0.1,13.1]},"axis":{"orient":"right","values":[0.1,0.2,0.3,0.4,0.5,0.6,0.7,0.8,0.9,1,2,3,4,5,6,7,8,9,10],"labels":false,"tickSize":{"condition":{"test":"abs(log(datum.value)/LN10-round(log(datum.value)/LN10))<0.001","value":-4},"value":-2},"title":null}},
    "stroke":{"field":"c","type":"nominal","scale":{"domain":[0,1,2,3,4],"range":["#1f77b4","#ff7f0e","#2ca02c","#d62728","#000000"]},"legend":null}}},
  {"transform":[{"filter":"datum.k=='T'"}],"mark":{"type":"text","align":"left","baseline":"middle","fontSize":12,"font":"DejaVu Sans"},
   "encoding":{"x":{"field":"x","type":"quantitative","scale":{"domain":[0,1]},"axis":null},"y":{"field":"p","type":"quantitative","scale":{"type":"log","domain":[0.1,13.1]},"axis":null},"text":{"field":"t"},
    "color":{"field":"c","type":"nominal","scale":{"domain":[0,1,2,3,4],"range":["#1f77b4","#ff7f0e","#2ca02c","#d62728","#000000"]},"legend":null}}}
 ],"resolve":{"axis":{"x":"independent","y":"independent"}}},

{"title":"CO₂ (1) + propene (2)","width":210,"height":237,"data":{"name":"d"},"transform":[{"filter":"datum.g=='B'"}],
 "layer":[
  {"transform":[{"filter":"datum.k=='L'"}],"mark":{"type":"line","strokeWidth":1.2,"clip":true,"interpolate":"monotone"},
   "encoding":{"x":{"field":"x","type":"quantitative","scale":{"domain":[0,1]},"axis":{"orient":"bottom","values":[0.2,0.4,0.6,0.8],"labels":false,"tickSize":-4,"title":null}},
    "y":{"field":"p","type":"quantitative","scale":{"type":"log","domain":[0.1,13.1]},"axis":{"orient":"left","values":[0.1,0.2,0.3,0.4,0.5,0.6,0.7,0.8,0.9,1,2,3,4,5,6,7,8,9,10],"labelExpr":"abs(log(datum.value)/LN10-round(log(datum.value)/LN10))<0.001 ? '10'+(datum.value<0.5?'⁻':'')+['⁰','¹','²','³'][abs(round(log(datum.value)/LN10))] : ''","tickSize":{"condition":{"test":"abs(log(datum.value)/LN10-round(log(datum.value)/LN10))<0.001","value":-4},"value":-2},"title":null}},
    "color":{"field":"c","type":"nominal","scale":{"domain":[0,1,2,3,4],"range":["#1f77b4","#ff7f0e","#2ca02c","#d62728","#000000"]},"legend":null},"detail":{"field":"b"}}},
  {"transform":[{"filter":"datum.k=='F'"}],"mark":{"type":"point","filled":true,"stroke":"black","strokeWidth":1,"size":62,"opacity":1,"clip":true},
   "encoding":{"x":{"field":"x","type":"quantitative","scale":{"domain":[0,1]},"axis":null},"y":{"field":"p","type":"quantitative","scale":{"type":"log","domain":[0.1,13.1]},"axis":null},
    "fill":{"field":"c","type":"nominal","scale":{"domain":[0,1,2,3,4],"range":["#1f77b4","#ff7f0e","#2ca02c","#d62728","#000000"]},"legend":null}}},
  {"transform":[{"filter":"datum.k=='O'"}],"mark":{"type":"point","filled":false,"strokeWidth":1.1,"size":62,"opacity":1,"clip":true},
   "encoding":{"x":{"field":"x","type":"quantitative","scale":{"domain":[0,1]},"axis":{"orient":"top","values":[0.2,0.4,0.6,0.8],"labels":false,"tickSize":-4,"title":null}},
    "y":{"field":"p","type":"quantitative","scale":{"type":"log","domain":[0.1,13.1]},"axis":{"orient":"right","values":[0.1,0.2,0.3,0.4,0.5,0.6,0.7,0.8,0.9,1,2,3,4,5,6,7,8,9,10],"labels":false,"tickSize":{"condition":{"test":"abs(log(datum.value)/LN10-round(log(datum.value)/LN10))<0.001","value":-4},"value":-2},"title":null}},
    "stroke":{"field":"c","type":"nominal","scale":{"domain":[0,1,2,3,4],"range":["#1f77b4","#ff7f0e","#2ca02c","#d62728","#000000"]},"legend":null}}},
  {"transform":[{"filter":"datum.k=='T'"}],"mark":{"type":"text","align":"left","baseline":"middle","fontSize":12,"font":"DejaVu Sans"},
   "encoding":{"x":{"field":"x","type":"quantitative","scale":{"domain":[0,1]},"axis":null},"y":{"field":"p","type":"quantitative","scale":{"type":"log","domain":[0.1,13.1]},"axis":null},"text":{"field":"t"},
    "color":{"field":"c","type":"nominal","scale":{"domain":[0,1,2,3,4],"range":["#1f77b4","#ff7f0e","#2ca02c","#d62728","#000000"]},"legend":null}}}
 ],"resolve":{"axis":{"x":"independent","y":"independent"}}},

{"title":"CO₂ (1) + benzene (2)","width":210,"height":237,"data":{"name":"d"},"transform":[{"filter":"datum.g=='C'"}],
 "layer":[
  {"transform":[{"filter":"datum.k=='L'"}],"mark":{"type":"line","strokeWidth":1.2,"clip":true,"interpolate":"monotone"},
   "encoding":{"x":{"field":"x","type":"quantitative","scale":{"domain":[0,1]},"axis":{"orient":"bottom","values":[0.2,0.4,0.6,0.8],"labels":false,"tickSize":-4,"title":null}},
    "y":{"field":"p","type":"quantitative","scale":{"type":"log","domain":[0.01,141]},"axis":{"orient":"left","values":[0.01,0.02,0.03,0.04,0.05,0.06,0.07,0.08,0.09,0.1,0.2,0.3,0.4,0.5,0.6,0.7,0.8,0.9,1,2,3,4,5,6,7,8,9,10,20,30,40,50,60,70,80,90,100],"labelExpr":"abs(log(datum.value)/LN10-round(log(datum.value)/LN10))<0.001 ? '10'+(datum.value<0.5?'⁻':'')+['⁰','¹','²','³'][abs(round(log(datum.value)/LN10))] : ''","tickSize":{"condition":{"test":"abs(log(datum.value)/LN10-round(log(datum.value)/LN10))<0.001","value":-4},"value":-2},"title":null}},
    "color":{"field":"c","type":"nominal","scale":{"domain":[0,1,2,3,4],"range":["#1f77b4","#ff7f0e","#2ca02c","#d62728","#000000"]},"legend":null},"detail":{"field":"b"}}},
  {"transform":[{"filter":"datum.k=='F'"}],"mark":{"type":"point","filled":true,"stroke":"black","strokeWidth":1,"size":62,"opacity":1,"clip":true},
   "encoding":{"x":{"field":"x","type":"quantitative","scale":{"domain":[0,1]},"axis":null},"y":{"field":"p","type":"quantitative","scale":{"type":"log","domain":[0.01,141]},"axis":null},
    "fill":{"field":"c","type":"nominal","scale":{"domain":[0,1,2,3,4],"range":["#1f77b4","#ff7f0e","#2ca02c","#d62728","#000000"]},"legend":null}}},
  {"transform":[{"filter":"datum.k=='O'"}],"mark":{"type":"point","filled":false,"strokeWidth":1.1,"size":62,"opacity":1,"clip":true},
   "encoding":{"x":{"field":"x","type":"quantitative","scale":{"domain":[0,1]},"axis":{"orient":"top","values":[0.2,0.4,0.6,0.8],"labels":false,"tickSize":-4,"title":null}},
    "y":{"field":"p","type":"quantitative","scale":{"type":"log","domain":[0.01,141]},"axis":{"orient":"right","values":[0.01,0.02,0.03,0.04,0.05,0.06,0.07,0.08,0.09,0.1,0.2,0.3,0.4,0.5,0.6,0.7,0.8,0.9,1,2,3,4,5,6,7,8,9,10,20,30,40,50,60,70,80,90,100],"labels":false,"tickSize":{"condition":{"test":"abs(log(datum.value)/LN10-round(log(datum.value)/LN10))<0.001","value":-4},"value":-2},"title":null}},
    "stroke":{"field":"c","type":"nominal","scale":{"domain":[0,1,2,3,4],"range":["#1f77b4","#ff7f0e","#2ca02c","#d62728","#000000"]},"legend":null}}},
  {"transform":[{"filter":"datum.k=='T'"}],"mark":{"type":"text","align":"left","baseline":"middle","fontSize":12,"font":"DejaVu Sans"},
   "encoding":{"x":{"field":"x","type":"quantitative","scale":{"domain":[0,1]},"axis":null},"y":{"field":"p","type":"quantitative","scale":{"type":"log","domain":[0.01,141]},"axis":null},"text":{"field":"t"},
    "color":{"field":"c","type":"nominal","scale":{"domain":[0,1,2,3,4],"range":["#1f77b4","#ff7f0e","#2ca02c","#d62728","#000000"]},"legend":null}}}
 ],"resolve":{"axis":{"x":"independent","y":"independent"}}},

{"title":"CO₂ (1) + ethanol (2)","width":210,"height":237,"data":{"name":"d"},"transform":[{"filter":"datum.g=='D'"}],
 "layer":[
  {"transform":[{"filter":"datum.k=='L'"}],"mark":{"type":"line","strokeWidth":1.2,"clip":true,"interpolate":"monotone"},
   "encoding":{"x":{"field":"x","type":"quantitative","scale":{"domain":[0,1]},"axis":{"orient":"bottom","values":[0.2,0.4,0.6,0.8],"labels":false,"tickSize":-4,"title":null}},
    "y":{"field":"p","type":"quantitative","scale":{"type":"log","domain":[0.001,1150]},"axis":{"orient":"left","values":[0.001,0.002,0.003,0.004,0.005,0.006,0.007,0.008,0.009,0.01,0.02,0.03,0.04,0.05,0.06,0.07,0.08,0.09,0.1,0.2,0.3,0.4,0.5,0.6,0.7,0.8,0.9,1,2,3,4,5,6,7,8,9,10,20,30,40,50,60,70,80,90,100,200,300,400,500,600,700,800,900,1000],"labelExpr":"abs(log(datum.value)/LN10-round(log(datum.value)/LN10))<0.001 ? '10'+(datum.value<0.5?'⁻':'')+['⁰','¹','²','³'][abs(round(log(datum.value)/LN10))] : ''","tickSize":{"condition":{"test":"abs(log(datum.value)/LN10-round(log(datum.value)/LN10))<0.001","value":-4},"value":-2},"title":null}},
    "color":{"field":"c","type":"nominal","scale":{"domain":[0,1,2,3,4],"range":["#1f77b4","#ff7f0e","#2ca02c","#d62728","#000000"]},"legend":null},"detail":{"field":"b"}}},
  {"transform":[{"filter":"datum.k=='F'"}],"mark":{"type":"point","filled":true,"stroke":"black","strokeWidth":1,"size":62,"opacity":1,"clip":true},
   "encoding":{"x":{"field":"x","type":"quantitative","scale":{"domain":[0,1]},"axis":null},"y":{"field":"p","type":"quantitative","scale":{"type":"log","domain":[0.001,1150]},"axis":null},
    "fill":{"field":"c","type":"nominal","scale":{"domain":[0,1,2,3,4],"range":["#1f77b4","#ff7f0e","#2ca02c","#d62728","#000000"]},"legend":null}}},
  {"transform":[{"filter":"datum.k=='O'"}],"mark":{"type":"point","filled":false,"strokeWidth":1.1,"size":62,"opacity":1,"clip":true},
   "encoding":{"x":{"field":"x","type":"quantitative","scale":{"domain":[0,1]},"axis":{"orient":"top","values":[0.2,0.4,0.6,0.8],"labels":false,"tickSize":-4,"title":null}},
    "y":{"field":"p","type":"quantitative","scale":{"type":"log","domain":[0.001,1150]},"axis":{"orient":"right","values":[0.001,0.002,0.003,0.004,0.005,0.006,0.007,0.008,0.009,0.01,0.02,0.03,0.04,0.05,0.06,0.07,0.08,0.09,0.1,0.2,0.3,0.4,0.5,0.6,0.7,0.8,0.9,1,2,3,4,5,6,7,8,9,10,20,30,40,50,60,70,80,90,100,200,300,400,500,600,700,800,900,1000],"labels":false,"tickSize":{"condition":{"test":"abs(log(datum.value)/LN10-round(log(datum.value)/LN10))<0.001","value":-4},"value":-2},"title":null}},
    "stroke":{"field":"c","type":"nominal","scale":{"domain":[0,1,2,3,4],"range":["#1f77b4","#ff7f0e","#2ca02c","#d62728","#000000"]},"legend":null}}},
  {"transform":[{"filter":"datum.k=='T'"}],"mark":{"type":"text","align":"left","baseline":"middle","fontSize":12,"font":"DejaVu Sans"},
   "encoding":{"x":{"field":"x","type":"quantitative","scale":{"domain":[0,1]},"axis":null},"y":{"field":"p","type":"quantitative","scale":{"type":"log","domain":[0.001,1150]},"axis":null},"text":{"field":"t"},
    "color":{"field":"c","type":"nominal","scale":{"domain":[0,1,2,3,4],"range":["#1f77b4","#ff7f0e","#2ca02c","#d62728","#000000"]},"legend":null}}}
 ],"resolve":{"axis":{"x":"independent","y":"independent"}}},

{"width":210,"height":237,"data":{"values":[{"a":1}]},"mark":{"type":"point","opacity":0},"view":{"stroke":null}},

{"title":"ethane (1) + propene (2)","width":210,"height":237,"data":{"name":"d"},"transform":[{"filter":"datum.g=='E'"}],
 "layer":[
  {"transform":[{"filter":"datum.k=='L'"}],"mark":{"type":"line","strokeWidth":1.2,"clip":true,"interpolate":"monotone"},
   "encoding":{"x":{"field":"x","type":"quantitative","scale":{"domain":[0,1]},"axis":{"orient":"bottom","values":[0.2,0.4,0.6,0.8],"labels":false,"tickSize":-4,"title":"x₁ (mol/mol)"}},
    "y":{"field":"p","type":"quantitative","scale":{"type":"log","domain":[0.01,12.7]},"axis":{"orient":"left","values":[0.01,0.02,0.03,0.04,0.05,0.06,0.07,0.08,0.09,0.1,0.2,0.3,0.4,0.5,0.6,0.7,0.8,0.9,1,2,3,4,5,6,7,8,9,10],"labelExpr":"abs(log(datum.value)/LN10-round(log(datum.value)/LN10))<0.001 ? '10'+(datum.value<0.5?'⁻':'')+['⁰','¹','²','³'][abs(round(log(datum.value)/LN10))] : ''","tickSize":{"condition":{"test":"abs(log(datum.value)/LN10-round(log(datum.value)/LN10))<0.001","value":-4},"value":-2},"title":"p (MPa)"}},
    "color":{"field":"c","type":"nominal","scale":{"domain":[0,1,2,3,4],"range":["#1f77b4","#ff7f0e","#2ca02c","#d62728","#000000"]},"legend":null},"detail":{"field":"b"}}},
  {"transform":[{"filter":"datum.k=='F'"}],"mark":{"type":"point","filled":true,"stroke":"black","strokeWidth":1,"size":62,"opacity":1,"clip":true},
   "encoding":{"x":{"field":"x","type":"quantitative","scale":{"domain":[0,1]},"axis":null},"y":{"field":"p","type":"quantitative","scale":{"type":"log","domain":[0.01,12.7]},"axis":null},
    "fill":{"field":"c","type":"nominal","scale":{"domain":[0,1,2,3,4],"range":["#1f77b4","#ff7f0e","#2ca02c","#d62728","#000000"]},"legend":null}}},
  {"transform":[{"filter":"datum.k=='O'"}],"mark":{"type":"point","filled":false,"strokeWidth":1.1,"size":62,"opacity":1,"clip":true},
   "encoding":{"x":{"field":"x","type":"quantitative","scale":{"domain":[0,1]},"axis":{"orient":"top","values":[0.2,0.4,0.6,0.8],"labels":false,"tickSize":-4,"title":null}},
    "y":{"field":"p","type":"quantitative","scale":{"type":"log","domain":[0.01,12.7]},"axis":{"orient":"right","values":[0.01,0.02,0.03,0.04,0.05,0.06,0.07,0.08,0.09,0.1,0.2,0.3,0.4,0.5,0.6,0.7,0.8,0.9,1,2,3,4,5,6,7,8,9,10],"labels":false,"tickSize":{"condition":{"test":"abs(log(datum.value)/LN10-round(log(datum.value)/LN10))<0.001","value":-4},"value":-2},"title":null}},
    "stroke":{"field":"c","type":"nominal","scale":{"domain":[0,1,2,3,4],"range":["#1f77b4","#ff7f0e","#2ca02c","#d62728","#000000"]},"legend":null}}},
  {"transform":[{"filter":"datum.k=='T'"}],"mark":{"type":"text","align":"left","baseline":"middle","fontSize":12,"font":"DejaVu Sans"},
   "encoding":{"x":{"field":"x","type":"quantitative","scale":{"domain":[0,1]},"axis":null},"y":{"field":"p","type":"quantitative","scale":{"type":"log","domain":[0.01,12.7]},"axis":null},"text":{"field":"t"},
    "color":{"field":"c","type":"nominal","scale":{"domain":[0,1,2,3,4],"range":["#1f77b4","#ff7f0e","#2ca02c","#d62728","#000000"]},"legend":null}}}
 ],"resolve":{"axis":{"x":"independent","y":"independent"}}},

{"title":"ethane (1) + benzene (2)","width":210,"height":237,"data":{"name":"d"},"transform":[{"filter":"datum.g=='F'"}],
 "layer":[
  {"transform":[{"filter":"datum.k=='L'"}],"mark":{"type":"line","strokeWidth":1.2,"clip":true,"interpolate":"monotone"},
   "encoding":{"x":{"field":"x","type":"quantitative","scale":{"domain":[0,1]},"axis":{"orient":"bottom","values":[0.2,0.4,0.6,0.8],"labels":false,"tickSize":-4,"title":null}},
    "y":{"field":"p","type":"quantitative","scale":{"type":"log","domain":[0.01,13.6]},"axis":{"orient":"left","values":[0.01,0.02,0.03,0.04,0.05,0.06,0.07,0.08,0.09,0.1,0.2,0.3,0.4,0.5,0.6,0.7,0.8,0.9,1,2,3,4,5,6,7,8,9,10],"labelExpr":"abs(log(datum.value)/LN10-round(log(datum.value)/LN10))<0.001 ? '10'+(datum.value<0.5?'⁻':'')+['⁰','¹','²','³'][abs(round(log(datum.value)/LN10))] : ''","tickSize":{"condition":{"test":"abs(log(datum.value)/LN10-round(log(datum.value)/LN10))<0.001","value":-4},"value":-2},"title":null}},
    "color":{"field":"c","type":"nominal","scale":{"domain":[0,1,2,3,4],"range":["#1f77b4","#ff7f0e","#2ca02c","#d62728","#000000"]},"legend":null},"detail":{"field":"b"}}},
  {"transform":[{"filter":"datum.k=='F'"}],"mark":{"type":"point","filled":true,"stroke":"black","strokeWidth":1,"size":62,"opacity":1,"clip":true},
   "encoding":{"x":{"field":"x","type":"quantitative","scale":{"domain":[0,1]},"axis":null},"y":{"field":"p","type":"quantitative","scale":{"type":"log","domain":[0.01,13.6]},"axis":null},
    "fill":{"field":"c","type":"nominal","scale":{"domain":[0,1,2,3,4],"range":["#1f77b4","#ff7f0e","#2ca02c","#d62728","#000000"]},"legend":null}}},
  {"transform":[{"filter":"datum.k=='O'"}],"mark":{"type":"point","filled":false,"strokeWidth":1.1,"size":62,"opacity":1,"clip":true},
   "encoding":{"x":{"field":"x","type":"quantitative","scale":{"domain":[0,1]},"axis":{"orient":"top","values":[0.2,0.4,0.6,0.8],"labels":false,"tickSize":-4,"title":null}},
    "y":{"field":"p","type":"quantitative","scale":{"type":"log","domain":[0.01,13.6]},"axis":{"orient":"right","values":[0.01,0.02,0.03,0.04,0.05,0.06,0.07,0.08,0.09,0.1,0.2,0.3,0.4,0.5,0.6,0.7,0.8,0.9,1,2,3,4,5,6,7,8,9,10],"labels":false,"tickSize":{"condition":{"test":"abs(log(datum.value)/LN10-round(log(datum.value)/LN10))<0.001","value":-4},"value":-2},"title":null}},
    "stroke":{"field":"c","type":"nominal","scale":{"domain":[0,1,2,3,4],"range":["#1f77b4","#ff7f0e","#2ca02c","#d62728","#000000"]},"legend":null}}},
  {"transform":[{"filter":"datum.k=='T'"}],"mark":{"type":"text","align":"left","baseline":"middle","fontSize":12,"font":"DejaVu Sans"},
   "encoding":{"x":{"field":"x","type":"quantitative","scale":{"domain":[0,1]},"axis":null},"y":{"field":"p","type":"quantitative","scale":{"type":"log","domain":[0.01,13.6]},"axis":null},"text":{"field":"t"},
    "color":{"field":"c","type":"nominal","scale":{"domain":[0,1,2,3,4],"range":["#1f77b4","#ff7f0e","#2ca02c","#d62728","#000000"]},"legend":null}}}
 ],"resolve":{"axis":{"x":"independent","y":"independent"}}},

{"title":"ethane (1) + ethanol (2)","width":210,"height":237,"data":{"name":"d"},"transform":[{"filter":"datum.g=='G'"}],
 "layer":[
  {"transform":[{"filter":"datum.k=='L'"}],"mark":{"type":"line","strokeWidth":1.2,"clip":true,"interpolate":"monotone"},
   "encoding":{"x":{"field":"x","type":"quantitative","scale":{"domain":[0,1]},"axis":{"orient":"bottom","values":[0.2,0.4,0.6,0.8],"labels":false,"tickSize":-4,"title":null}},
    "y":{"field":"p","type":"quantitative","scale":{"type":"log","domain":[0.01,1160]},"axis":{"orient":"left","values":[0.01,0.02,0.03,0.04,0.05,0.06,0.07,0.08,0.09,0.1,0.2,0.3,0.4,0.5,0.6,0.7,0.8,0.9,1,2,3,4,5,6,7,8,9,10,20,30,40,50,60,70,80,90,100,200,300,400,500,600,700,800,900,1000],"labelExpr":"abs(log(datum.value)/LN10-round(log(datum.value)/LN10))<0.001 ? '10'+(datum.value<0.5?'⁻':'')+['⁰','¹','²','³'][abs(round(log(datum.value)/LN10))] : ''","tickSize":{"condition":{"test":"abs(log(datum.value)/LN10-round(log(datum.value)/LN10))<0.001","value":-4},"value":-2},"title":null}},
    "color":{"field":"c","type":"nominal","scale":{"domain":[0,1,2,3,4],"range":["#1f77b4","#ff7f0e","#2ca02c","#d62728","#000000"]},"legend":null},"detail":{"field":"b"}}},
  {"transform":[{"filter":"datum.k=='F'"}],"mark":{"type":"point","filled":true,"stroke":"black","strokeWidth":1,"size":62,"opacity":1,"clip":true},
   "encoding":{"x":{"field":"x","type":"quantitative","scale":{"domain":[0,1]},"axis":null},"y":{"field":"p","type":"quantitative","scale":{"type":"log","domain":[0.01,1160]},"axis":null},
    "fill":{"field":"c","type":"nominal","scale":{"domain":[0,1,2,3,4],"range":["#1f77b4","#ff7f0e","#2ca02c","#d62728","#000000"]},"legend":null}}},
  {"transform":[{"filter":"datum.k=='O'"}],"mark":{"type":"point","filled":false,"strokeWidth":1.1,"size":62,"opacity":1,"clip":true},
   "encoding":{"x":{"field":"x","type":"quantitative","scale":{"domain":[0,1]},"axis":{"orient":"top","values":[0.2,0.4,0.6,0.8],"labels":false,"tickSize":-4,"title":null}},
    "y":{"field":"p","type":"quantitative","scale":{"type":"log","domain":[0.01,1160]},"axis":{"orient":"right","values":[0.01,0.02,0.03,0.04,0.05,0.06,0.07,0.08,0.09,0.1,0.2,0.3,0.4,0.5,0.6,0.7,0.8,0.9,1,2,3,4,5,6,7,8,9,10,20,30,40,50,60,70,80,90,100,200,300,400,500,600,700,800,900,1000],"labels":false,"tickSize":{"condition":{"test":"abs(log(datum.value)/LN10-round(log(datum.value)/LN10))<0.001","value":-4},"value":-2},"title":null}},
    "stroke":{"field":"c","type":"nominal","scale":{"domain":[0,1,2,3,4],"range":["#1f77b4","#ff7f0e","#2ca02c","#d62728","#000000"]},"legend":null}}},
  {"transform":[{"filter":"datum.k=='T'"}],"mark":{"type":"text","align":"left","baseline":"middle","fontSize":12,"font":"DejaVu Sans"},
   "encoding":{"x":{"field":"x","type":"quantitative","scale":{"domain":[0,1]},"axis":null},"y":{"field":"p","type":"quantitative","scale":{"type":"log","domain":[0.01,1160]},"axis":null},"text":{"field":"t"},
    "color":{"field":"c","type":"nominal","scale":{"domain":[0,1,2,3,4],"range":["#1f77b4","#ff7f0e","#2ca02c","#d62728","#000000"]},"legend":null}}}
 ],"resolve":{"axis":{"x":"independent","y":"independent"}}},

{"width":210,"height":237,"data":{"values":[{"a":1}]},"mark":{"type":"point","opacity":0},"view":{"stroke":null}},
{"width":210,"height":237,"data":{"values":[{"a":1}]},"mark":{"type":"point","opacity":0},"view":{"stroke":null}},

{"title":"propene (1) + benzene (2)","width":210,"height":237,"data":{"name":"d"},"transform":[{"filter":"datum.g=='H'"}],
 "layer":[
  {"mark":{"type":"line","strokeWidth":1.2,"clip":true},
   "encoding":{"x":{"field":"x","type":"quantitative","scale":{"domain":[0,1]},"axis":{"orient":"bottom","values":[0.2,0.4,0.6,0.8],"labels":false,"tickSize":-4,"title":null}},
    "y":{"field":"p","type":"quantitative","scale":{"type":"log","domain":[0.01,13.6]},"axis":{"orient":"left","values":[0.01,0.02,0.03,0.04,0.05,0.06,0.07,0.08,0.09,0.1,0.2,0.3,0.4,0.5,0.6,0.7,0.8,0.9,1,2,3,4,5,6,7,8,9,10],"labelExpr":"abs(log(datum.value)/LN10-round(log(datum.value)/LN10))<0.001 ? '10'+(datum.value<0.5?'⁻':'')+['⁰','¹','²','³'][abs(round(log(datum.value)/LN10))] : ''","tickSize":{"condition":{"test":"abs(log(datum.value)/LN10-round(log(datum.value)/LN10))<0.001","value":-4},"value":-2},"title":null}}}},
  {"mark":{"type":"point","opacity":0},
   "encoding":{"x":{"field":"x","type":"quantitative","scale":{"domain":[0,1]},"axis":{"orient":"top","values":[0.2,0.4,0.6,0.8],"labels":false,"tickSize":-4,"title":null}},
    "y":{"field":"p","type":"quantitative","scale":{"type":"log","domain":[0.01,13.6]},"axis":{"orient":"right","values":[0.01,0.02,0.03,0.04,0.05,0.06,0.07,0.08,0.09,0.1,0.2,0.3,0.4,0.5,0.6,0.7,0.8,0.9,1,2,3,4,5,6,7,8,9,10],"labels":false,"tickSize":{"condition":{"test":"abs(log(datum.value)/LN10-round(log(datum.value)/LN10))<0.001","value":-4},"value":-2},"title":null}}}}
 ],"resolve":{"axis":{"x":"independent","y":"independent"}}},

{"title":"ethanol (1) + propene (2)","width":210,"height":237,"data":{"name":"d"},"transform":[{"filter":"datum.g=='I'"}],
 "layer":[
  {"mark":{"type":"line","strokeWidth":1.2,"clip":true},
   "encoding":{"x":{"field":"x","type":"quantitative","scale":{"domain":[0,1]},"axis":{"orient":"bottom","values":[0.2,0.4,0.6,0.8],"labels":false,"tickSize":-4,"title":null}},
    "y":{"field":"p","type":"quantitative","scale":{"type":"log","domain":[0.01,1160]},"axis":{"orient":"left","values":[0.01,0.02,0.03,0.04,0.05,0.06,0.07,0.08,0.09,0.1,0.2,0.3,0.4,0.5,0.6,0.7,0.8,0.9,1,2,3,4,5,6,7,8,9,10,20,30,40,50,60,70,80,90,100,200,300,400,500,600,700,800,900,1000],"labelExpr":"abs(log(datum.value)/LN10-round(log(datum.value)/LN10))<0.001 ? '10'+(datum.value<0.5?'⁻':'')+['⁰','¹','²','³'][abs(round(log(datum.value)/LN10))] : ''","tickSize":{"condition":{"test":"abs(log(datum.value)/LN10-round(log(datum.value)/LN10))<0.001","value":-4},"value":-2},"title":null}}}},
  {"mark":{"type":"point","opacity":0},
   "encoding":{"x":{"field":"x","type":"quantitative","scale":{"domain":[0,1]},"axis":{"orient":"top","values":[0.2,0.4,0.6,0.8],"labels":false,"tickSize":-4,"title":null}},
    "y":{"field":"p","type":"quantitative","scale":{"type":"log","domain":[0.01,1160]},"axis":{"orient":"right","values":[0.01,0.02,0.03,0.04,0.05,0.06,0.07,0.08,0.09,0.1,0.2,0.3,0.4,0.5,0.6,0.7,0.8,0.9,1,2,3,4,5,6,7,8,9,10,20,30,40,50,60,70,80,90,100,200,300,400,500,600,700,800,900,1000],"labels":false,"tickSize":{"condition":{"test":"abs(log(datum.value)/LN10-round(log(datum.value)/LN10))<0.001","value":-4},"value":-2},"title":null}}}}
 ],"resolve":{"axis":{"x":"independent","y":"independent"}}}
],
"config":{
 "view":{"stroke":"black","strokeWidth":2},
 "axis":{"grid":false,"domain":false,"tickColor":"black","tickWidth":1,"labelColor":"black","labelFont":"DejaVu Sans","labelFontSize":13.5,"labelPadding":5,"labelFlush":false,"labelOverlap":false,"labelBound":false,"titleFont":"DejaVu Sans","titleFontSize":14,"titleFontWeight":"normal","titleColor":"black","titlePadding":8},
 "axisX":{"titlePadding":3},
 "title":{"font":"DejaVu Sans","fontSize":17,"fontWeight":"normal","color":"black","offset":3},
 "text":{"font":"DejaVu Sans"}
}
}
